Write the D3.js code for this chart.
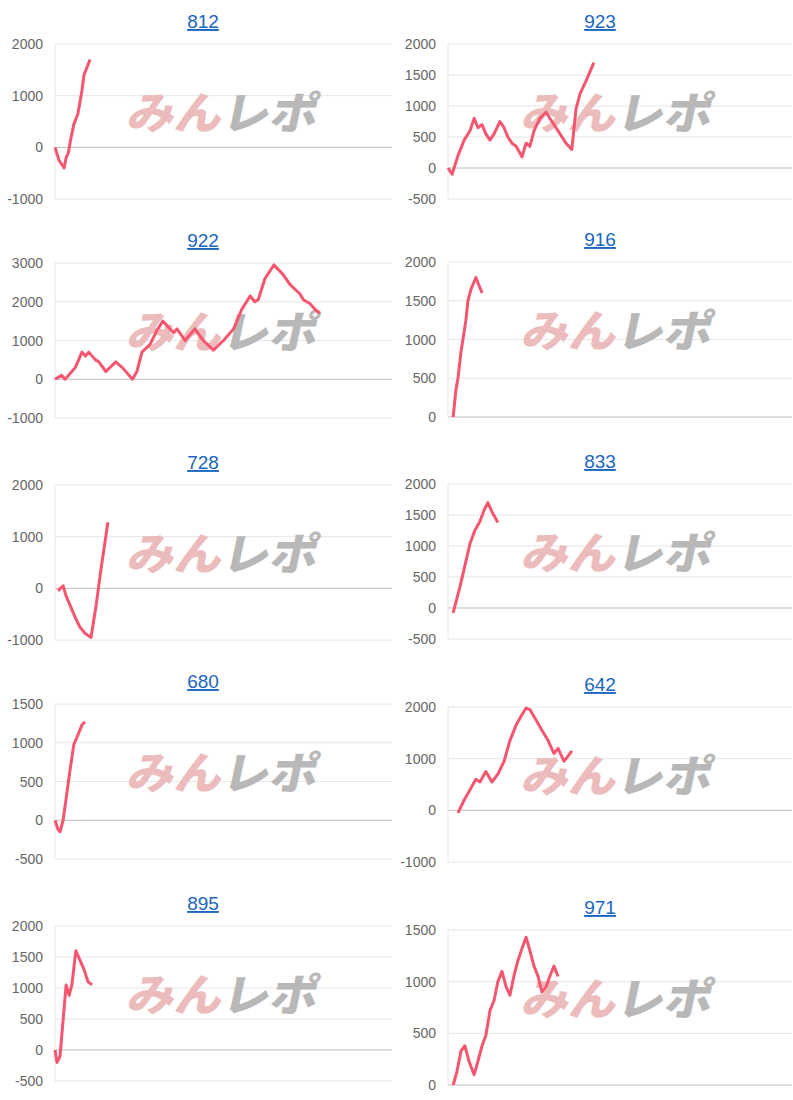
<!DOCTYPE html>
<html><head><meta charset="utf-8">
<script src="https://cdn.jsdelivr.net/npm/d3@7"></script>
<style>body{margin:0;background:#fff;font-family:"Liberation Sans",Arial,sans-serif}</style>
</head><body><svg id="c" width="793" height="1100"></svg>
<script>
// titles
const titles = ["812","923","922","916","728","833","680","642","895","971"];
// series: [x position (% of period), value]
const s812 = [[0,0],[1.2,-250],[2.7,-400],[3.3,-200],[4,-100],[4.5,100],[5.6,450],[6.8,650],[8,1100],[8.6,1400],[9.5,1550],[10.4,1700]];
const s923 = [[0,0],[1.2,-100],[2.9,200],[4.7,450],[6.4,600],[7.6,800],[8.7,650],[9.9,700],[11,550],[12.2,450],[13.4,550],[15.1,750],[16.3,650],[17.4,500],[18.6,400],[19.8,350],[21.5,180],[22.7,400],[23.8,350],[25,600],[26.7,800],[28.5,900],[30.2,750],[32,600],[34.3,400],[36,300],[37.2,950],[38.4,1200],[40.1,1400],[42.4,1700]];
const s922 = [[0,0],[2,100],[3,0],[5,200],[6,300],[8,700],[9,600],[10,700],[12,500],[13,450],[15.1,200],[18,450],[20,300],[23,0],[24.3,200],[25.8,700],[28.2,900],[30.2,1250],[32,1500],[35.2,1200],[36.2,1300],[38.6,1000],[41.5,1300],[44,1000],[47,750],[50,1000],[53,1300],[55.4,1800],[57.9,2150],[59.3,2000],[60.3,2050],[62.3,2600],[65,2950],[67.7,2700],[69.7,2450],[72.7,2200],[73.7,2050],[75.7,1950],[77.2,1800],[78.6,1700]];
const s916 = [[1.5,0],[2.3,350],[2.9,500],[3.8,850],[4.7,1100],[5.2,1250],[5.8,1500],[6.7,1650],[8.1,1800],[9,1700],[9.9,1600]];
const s728 = [[0.9,-50],[2.4,50],[3.3,-150],[4.5,-330],[5.9,-550],[7.4,-750],[8.9,-870],[10.7,-950],[12.2,-330],[13.6,350],[15.7,1280]];
const s833 = [[1.5,-80],[2,30],[3.5,350],[4.9,680],[6.4,1040],[7.8,1250],[9.3,1400],[10.5,1580],[11.6,1700],[12.8,1550],[14.5,1380]];
const s680 = [[0,0],[0.9,-120],[1.5,-150],[2.4,0],[3.3,280],[4.5,660],[5.6,980],[6.8,1100],[8,1230],[8.9,1270]];
const s642 = [[2.9,-50],[4.7,200],[6.4,400],[8.1,600],[9.3,550],[11,750],[12.8,550],[14.5,700],[16.3,950],[18,1350],[19.8,1650],[21.5,1850],[22.7,1980],[23.8,1950],[25.6,1750],[27.3,1550],[29.1,1350],[30.8,1100],[32,1200],[33.7,950],[34.9,1050],[36,1150]];
const s895 = [[0,0],[0.6,-200],[1.5,-100],[2.4,480],[3.3,1050],[4.2,880],[5,1050],[6.2,1600],[7.4,1450],[8.6,1300],[9.8,1100],[11,1050]];
const s971 = [[1.5,0],[2.6,130],[3.8,330],[4.9,380],[6.1,230],[7.6,100],[8.7,230],[9.9,380],[11,480],[12.2,720],[13.4,820],[14.5,1000],[15.7,1100],[16.9,950],[18,870],[19.2,1060],[20.3,1200],[21.5,1320],[22.7,1430],[23.8,1300],[25,1150],[26.2,1050],[27.3,900],[28.5,950],[29.7,1060],[30.8,1150],[32,1050]];
const series = [s812,s923,s922,s916,s728,s833,s680,s642,s895,s971];
// y-axis domains and tick values
const yMin = [-1000,-500,-1000,0,-1000,-500,-500,-1000,-500,0];
const yMax = [2000,2000,3000,2000,2000,2000,1500,2000,2000,1500];
const yStep = [1000,500,1000,500,1000,500,500,1000,500,500];

// layout
const plotTop = [44,44,263,262,485,484,704,707,926,930];
const plotH = 155;
const colX = [55,448], colW = [337,344], titleX = [203,600];
const svg = d3.select("#c");
titles.forEach((t,i)=>{
  const col=i%2, x0=colX[col], w=colW[col], top=plotTop[i];
  const g=svg.append("g");
  const y=d3.scaleLinear().domain([yMin[i],yMax[i]]).range([top+plotH,top]);
  const x=d3.scaleLinear().domain([0,100]).range([x0,x0+w]);
  const ticks=d3.range(yMin[i],yMax[i]+1,yStep[i]);
  g.selectAll("line.g").data(ticks).join("line")
    .attr("x1",x0).attr("x2",x0+w).attr("y1",d=>y(d)).attr("y2",d=>y(d))
    .attr("stroke",d=>d===0?"#bdbdbd":"#e6e6e6").attr("stroke-width",1);
  g.append("line").attr("x1",x0).attr("x2",x0).attr("y1",top).attr("y2",top+plotH).attr("stroke","#e6e6e6");
  g.selectAll("text.t").data(ticks).join("text")
    .attr("x",x0-12).attr("y",d=>y(d)+5).attr("text-anchor","end")
    .attr("font-size",14).attr("fill","#666").text(d=>d);
  g.append("text").attr("x",titleX[col]).attr("y",top-16)
    .attr("text-anchor","middle").attr("font-size",19).attr("fill","#1a66c0")
    .attr("text-decoration","underline").text(t);
  // watermark
  const wx=x0+w*0.21, wy=top+plotH*0.55;
  const wm=g.append("text").attr("x",wx).attr("y",wy).attr("font-size",44).attr("font-weight","900")
    .attr("font-family","Noto Sans CJK JP").attr("transform",`skewX(-12)`)
    .attr("dx",wy*Math.tan(12*Math.PI/180)).attr("textLength",190).attr("lengthAdjust","spacingAndGlyphs");
  wm.append("tspan").attr("fill","#ecbcbc").text("みん");
  wm.append("tspan").attr("fill","#b8b8b8").text("レポ");
  g.append("path").datum(series[i])
    .attr("d",d3.line().x(d=>x(d[0])).y(d=>y(d[1])))
    .attr("fill","none").attr("stroke","#f5566f").attr("stroke-width",3).attr("stroke-linejoin","round");
});
</script></body></html>
